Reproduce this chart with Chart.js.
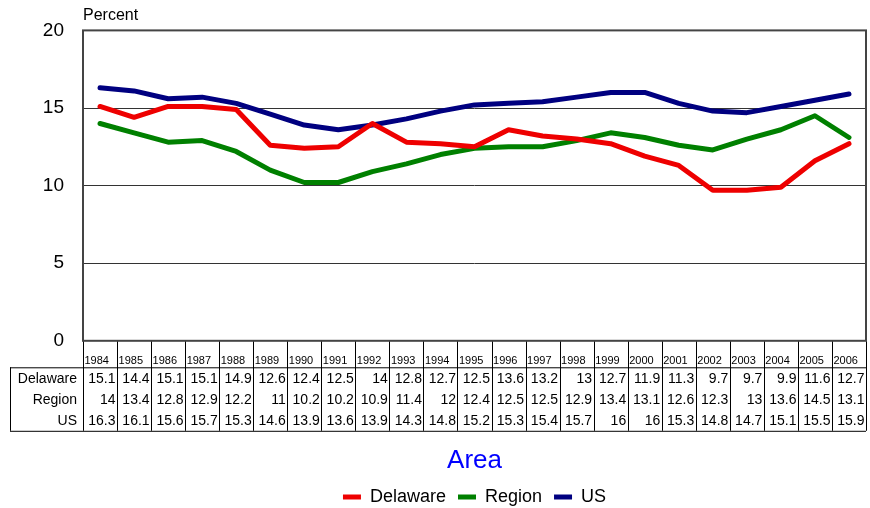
<!DOCTYPE html>
<html>
<head>
<meta charset="utf-8">
<script src="https://cdn.jsdelivr.net/npm/chart.js@4/dist/chart.umd.min.js"></script>
<style>
  html, body { margin: 0; padding: 0; background: #fff; }
  #wrap { width: 870px; height: 508px; }
</style>
</head>
<body>
<div id="wrap"><canvas id="myChart"></canvas></div>
<script>
const years = ["1984","1985","1986","1987","1988","1989","1990","1991","1992","1993","1994","1995",
  "1996","1997","1998","1999","2000","2001","2002","2003","2004","2005","2006"];
const delaware = [15.1,14.4,15.1,15.1,14.9,12.6,12.4,12.5,14,12.8,12.7,12.5,13.6,13.2,13,12.7,11.9,11.3,9.7,9.7,9.9,11.6,12.7];
const region = [14,13.4,12.8,12.9,12.2,11,10.2,10.2,10.9,11.4,12,12.4,12.5,12.5,12.9,13.4,13.1,12.6,12.3,13,13.6,14.5,13.1];
const us = [16.3,16.1,15.6,15.7,15.3,14.6,13.9,13.6,13.9,14.3,14.8,15.2,15.3,15.4,15.7,16,16,15.3,14.8,14.7,15.1,15.5,15.9];
const yTicks = [0, 5, 10, 15, 20];

const FONT = "Arial, 'Liberation Sans', sans-serif";

// data table under the plot + "Percent" label + frame
const tablePlugin = {
  id: "dataTable",
  afterDraw(chart) {
    const c = chart.ctx;
    const a = chart.chartArea;
    const n = years.length;
    const w = (a.right - a.left) / n;
    const top = a.bottom;
    const headBottom = top + 26.5;
    const bottom = top + 90;
    const labLeft = 10;
    c.save();
    c.strokeStyle = "#000";
    c.lineWidth = 1;
    c.beginPath();
    for (let i = 0; i <= n; i++) {
      const xx = Math.round(a.left + i * w) + 0.5;
      c.moveTo(xx, top);
      c.lineTo(xx, bottom);
    }
    c.moveTo(labLeft + 0.5, headBottom);
    c.lineTo(labLeft + 0.5, bottom);
    c.moveTo(labLeft, headBottom + 0.5);
    c.lineTo(a.right, headBottom + 0.5);
    c.moveTo(labLeft, bottom + 0.5);
    c.lineTo(a.right, bottom + 0.5);
    c.stroke();

    c.fillStyle = "#000";
    c.font = "11px " + FONT;
    c.textBaseline = "middle";
    c.textAlign = "left";
    years.forEach((y, i) => c.fillText(y, a.left + i * w + 1.5, top + 20));

    const rows = [["Delaware", delaware], ["Region", region], ["US", us]];
    c.font = "14px " + FONT;
    rows.forEach((r, j) => {
      const yy = headBottom + 11.5 + j * 21;
      c.textAlign = "right";
      c.fillText(r[0], a.left - 6, yy);
      r[1].forEach((v, i) => c.fillText(String(v), a.left + (i + 1) * w - 1.5, yy));
    });

    // plot frame
    c.strokeStyle = "#444";
    c.lineWidth = 2;
    c.strokeRect(a.left, a.top, a.right - a.left, a.bottom - a.top);

    c.fillStyle = "#000";
    c.font = "16px " + FONT;
    c.textAlign = "left";
    c.textBaseline = "middle";
    c.fillText("Percent", a.left, 16);
    c.restore();
  }
};

const ctx = document.getElementById("myChart").getContext("2d");
const chart = new Chart(ctx, {
  type: "line",
  data: {
    labels: years,
    datasets: [
      { label: "Delaware", data: delaware, borderColor: "#ee0000", backgroundColor: "#ee0000" },
      { label: "Region", data: region, borderColor: "#008000", backgroundColor: "#008000" },
      { label: "US", data: us, borderColor: "#000080", backgroundColor: "#000080" },
    ],
  },
  options: {
    responsive: true,
    maintainAspectRatio: false,
    animation: false,
    elements: {
      line: { borderWidth: 5, tension: 0, borderCapStyle: "round", borderJoinStyle: "round" },
      point: { radius: 0 },
    },
    layout: { padding: { top: 30, right: 4, left: 0, bottom: -8 } },
    scales: {
      x: {
        offset: true,
        ticks: { display: false },
        grid: { display: false },
        border: { display: false },
        afterFit(s) { s.height = 90; },
      },
      y: {
        min: 0,
        max: 20,
        afterBuildTicks(s) { s.ticks = yTicks.map(v => ({ value: v })); },
        ticks: { color: "#000", padding: 19, font: { family: FONT, size: 19 } },
        grid: { color: "#333", lineWidth: 1, drawTicks: false },
        border: { display: false },
        afterFit(s) { s.width = 83; },
      },
    },
    plugins: {
      title: {
        display: true,
        text: "Area",
        position: "bottom",
        fullSize: false,
        weight: 500,
        color: "#0000ff",
        font: { family: FONT, size: 26, weight: "normal" },
        padding: { top: 14, bottom: 0 },
      },
      legend: {
        position: "bottom",
        fullSize: false,
        labels: {
          color: "#000",
          font: { family: FONT, size: 18 },
          boxWidth: 18,
          boxHeight: 5,
          padding: 12,
          generateLabels(chart) {
            return chart.data.datasets.map((ds, i) => ({
              text: ds.label,
              fillStyle: ds.borderColor,
              strokeStyle: ds.borderColor,
              lineWidth: 0,
              fontColor: "#000",
              hidden: !chart.isDatasetVisible(i),
              datasetIndex: i,
            }));
          },
        },
      },
      tooltip: { enabled: false },
    },
  },
  plugins: [tablePlugin],
});
</script>
</body>
</html>
